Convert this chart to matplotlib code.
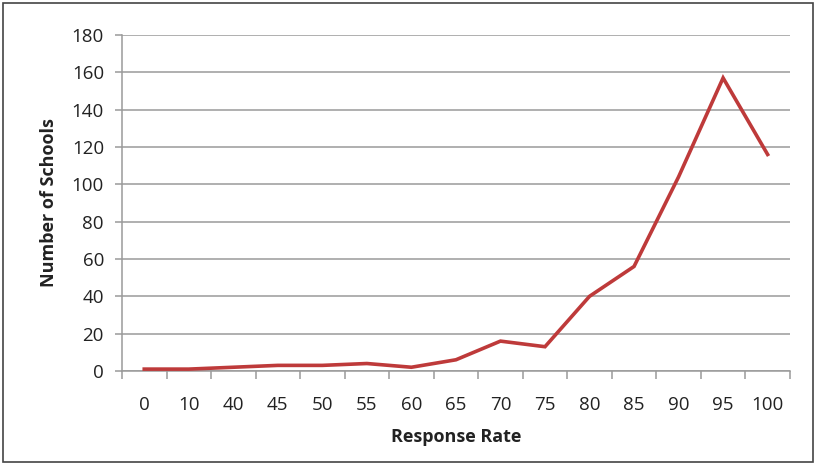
import matplotlib.pyplot as plt
from matplotlib.patches import Rectangle

# Response rate categories and number of schools
kategori = ['0', '10', '40', '45', '50', '55', '60', '65', '70', '75',
            '80', '85', '90', '95', '100']
jumlah_sekolah = [1, 1, 2, 3, 3, 4, 2, 6, 16, 13, 40, 56, 104, 157, 116]

plt.rcParams['font.family'] = ['Open Sans', 'DejaVu Sans']

fig = plt.figure(figsize=(8.16, 4.65), dpi=100)
ax = fig.add_axes([0.1495, 0.2022, 0.8185, 0.7225])

posisi = list(range(len(kategori)))
ax.plot(posisi, jumlah_sekolah, color='#BE3A3A', linewidth=2.6,
        solid_joinstyle='miter', zorder=3)

ax.set_xlim(-0.5, len(kategori) - 0.5)
ax.set_ylim(0, 180)
ax.set_yticks(range(0, 181, 20))
ax.set_xticks(posisi)
ax.set_xticklabels(kategori)
ax.set_xticks([p - 0.5 for p in posisi] + [len(kategori) - 0.5], minor=True)

ax.grid(axis='y', color='#9a9a9a', linewidth=1.1)
ax.set_axisbelow(True)
for s in ['top', 'right']:
    ax.spines[s].set_visible(False)
ax.spines['left'].set_color('#9a9a9a')
ax.spines['bottom'].set_color('#9a9a9a')
ax.spines['left'].set_linewidth(1.1)
ax.spines['bottom'].set_linewidth(1.1)

ax.tick_params(axis='x', which='major', length=0, pad=18, labelsize=13.5,
               colors='#222222')
ax.tick_params(axis='x', which='minor', length=6, color='#9a9a9a', width=1.1)
ax.tick_params(axis='y', length=5, color='#9a9a9a', width=1.1, pad=8,
               labelsize=13.5, labelcolor='#222222')

ax.set_xlabel('Response Rate', fontsize=13, fontweight='bold', labelpad=10,
              color='#222222')
ax.set_ylabel('Number of Schools', fontsize=13, fontweight='bold',
              labelpad=10, color='#222222')

# frame around the whole picture
fig.patches.append(Rectangle((0.004, 0.006), 0.992, 0.988,
                             transform=fig.transFigure, fill=False,
                             edgecolor='#444444', linewidth=1.2))

fig.savefig('out.png', dpi=100)
